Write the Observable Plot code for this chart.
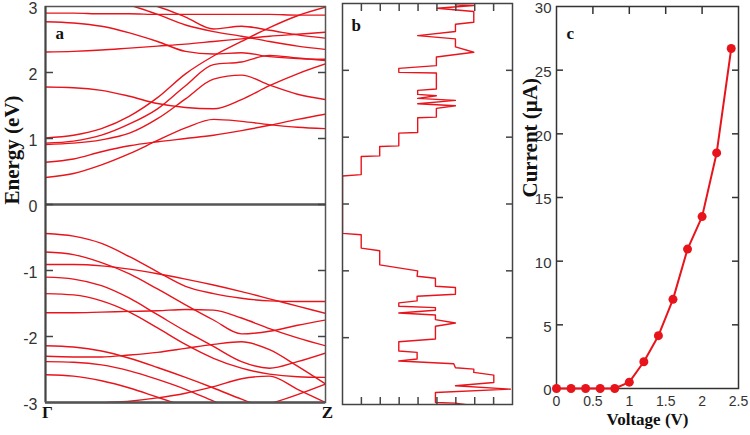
<!DOCTYPE html>
<html><head><meta charset="utf-8">
<script src="https://cdn.jsdelivr.net/npm/d3@7"></script>
<script src="https://cdn.jsdelivr.net/npm/@observablehq/plot@0.6"></script>
<style>
body{margin:0;background:#fff;}
#wrap{position:relative;width:750px;height:435px;overflow:hidden;background:#fff;}
#wrap > svg{position:absolute;top:0;}
</style></head><body><div id="wrap"></div>
<script>
// ---------- data ----------
const kPoints = [0,0.1,0.2,0.3,0.4,0.5,0.6,0.7,0.8,0.9,1];
const kTickLabels = ["Γ","Z"];
const kTickPos = [0,1];
const energyTickLabels = [-3,-2,-1,0,1,2,3];
const energyInnerTicks = [-2,-1,0,1,2];

const conductionBands = [
  [0.41,0.47,0.60,0.77,0.97,1.16,1.29,1.26,1.21,1.17,1.15],
  [0.64,0.69,0.80,0.89,0.95,1.00,1.05,1.12,1.20,1.29,1.37],
  [0.91,0.93,0.98,1.08,1.30,1.60,1.90,1.96,1.81,1.67,1.59],
  [0.93,0.96,1.05,1.22,1.45,1.80,2.12,2.16,2.26,2.22,2.18],
  [1.01,1.05,1.15,1.34,1.62,1.98,2.25,2.47,2.68,2.86,2.99],
  [1.78,1.77,1.73,1.64,1.53,1.47,1.45,1.59,1.80,1.98,2.13],
  [2.31,2.32,2.34,2.37,2.40,2.43,2.47,2.51,2.55,2.58,2.61],
  [2.77,2.75,2.70,2.60,2.47,2.32,2.28,2.30,2.24,2.21,2.20],
  [2.90,2.90,2.89,2.89,2.88,2.88,2.88,2.88,2.88,2.87,2.87],
  [3.30,3.20,3.10,3.02,2.88,2.72,2.62,2.55,2.47,2.40,2.35],
  [3.40,3.30,3.20,3.10,3.00,2.84,2.66,2.70,2.64,2.57,2.52]
];
const valenceBands = [
  [-0.44,-0.48,-0.59,-0.79,-1.02,-1.24,-1.35,-1.42,-1.46,-1.47,-1.47],
  [-0.91,-0.91,-0.93,-0.98,-1.05,-1.13,-1.22,-1.32,-1.43,-1.54,-1.65],
  [-0.72,-0.76,-0.88,-1.05,-1.28,-1.52,-1.75,-1.96,-1.92,-1.83,-1.75],
  [-1.64,-1.64,-1.63,-1.62,-1.61,-1.59,-1.60,-1.72,-1.88,-2.02,-2.14],
  [-1.10,-1.13,-1.23,-1.42,-1.67,-1.92,-2.15,-2.38,-2.48,-2.38,-2.25],
  [-1.35,-1.37,-1.46,-1.63,-1.87,-2.12,-2.33,-2.48,-2.57,-2.61,-2.62],
  [-2.14,-2.16,-2.22,-2.33,-2.47,-2.62,-2.78,-2.95,-3.10,-3.20,-3.30],
  [-2.30,-2.31,-2.31,-2.28,-2.24,-2.18,-2.12,-2.08,-2.20,-2.45,-2.72],
  [-2.38,-2.39,-2.43,-2.52,-2.65,-2.80,-2.98,-3.15,-3.30,-3.40,-3.50],
  [-2.58,-2.60,-2.67,-2.78,-2.92,-3.06,-3.20,-3.30,-3.40,-3.50,-3.60],
  [-3.30,-3.10,-3.01,-2.98,-2.93,-2.86,-2.76,-2.64,-2.60,-2.80,-3.00],
  [-3.60,-3.55,-3.50,-3.45,-3.40,-3.35,-3.25,-3.12,-3.02,-2.88,-2.72]
];

const dosEnergy = [3.02,2.98,2.97,2.93,2.88,2.72,2.69,2.58,2.52,2.47,2.35,2.27,2.20,2.07,2.03,1.97,1.96,1.72,1.70,1.64,1.62,1.58,1.55,1.50,1.47,1.43,1.30,1.29,1.07,1.06,0.87,0.86,0.72,0.71,0.44,0.42,
  -0.44,-0.46,-0.66,-0.70,-0.91,-1.00,-1.08,-1.11,-1.23,-1.25,-1.35,-1.38,-1.45,-1.48,-1.53,-1.55,-1.59,-1.63,-1.66,-1.73,-1.78,-1.83,-2.02,-2.06,-2.20,-2.22,-2.32,-2.35,-2.39,-2.45,-2.47,-2.52,-2.56,-2.67,-2.72,-2.77,-2.82,-2.97,-2.98,-3.02];
const dosValue = [5.98,5.98,6.95,5.01,6.95,6.95,5.98,5.98,3.98,5.98,5.98,6.95,4.97,4.97,2.98,2.98,4.97,4.97,3.98,3.98,4.97,3.98,5.98,3.98,5.98,4.97,4.97,3.98,3.98,2.98,2.98,1.97,1.97,0.99,0.99,0,
  0,0.99,0.99,1.97,1.97,3.98,3.95,4.92,4.92,5.98,5.98,3.95,3.95,2.98,2.98,4.92,4.92,2.98,4.92,4.92,5.98,4.92,4.92,2.98,2.98,3.95,3.95,2.98,5.89,5.98,6.95,6.95,8.01,8.01,5.98,8.89,4.92,4.92,5.98,6.98];
const dosTicks = [1,2,3,4,5,6,7,8];

const voltage = [0,0.2,0.4,0.6,0.8,1.0,1.2,1.4,1.6,1.8,2.0,2.2,2.4];
const current = [0,0,0,0,0,0.5,2.1,4.15,7.0,10.95,13.5,18.5,26.7];
const voltageTicks = [0,0.5,1,1.5,2,2.5];
const currentTicks = [0,5,10,15,20,25,30];
const currentInnerTicks = [5,10,15,20,25];
const voltageInnerTicks = [0.5,1,1.5,2];

// ---------- tables ----------
const bandTable = [...conductionBands, ...valenceBands].flatMap((b, i) => b.map((e, j) => ({k: kPoints[j], e, band: i})));
const dosTable = dosEnergy.map((e, i) => ({e, d: dosValue[i]}));
const ivTable = voltage.map((v, i) => ({v, c: current[i]}));

const red = "#e8141c";
const serif = "Liberation Serif";
const sans = "Liberation Sans";
const tickText = "#333";
const baseStyle = {fontFamily: sans, fontSize: "16px", color: "#333", background: "transparent", overflow: "visible"};
const fmt = d => String(d);
const blank = () => "";

const wrap = document.getElementById("wrap");

// ---------- panel a ----------
const plotA = Plot.plot({
  width: 335, height: 435,
  marginLeft: 45, marginRight: 10, marginTop: 6, marginBottom: 33,
  x: {domain: [0, 1], axis: null},
  y: {domain: [-3, 3]},
  style: baseStyle,
  marks: [
    Plot.line(bandTable, {x: "k", y: "e", z: "band", stroke: red, strokeWidth: 1.4, curve: "monotone-x", clip: true}),
    Plot.ruleY([0], {stroke: "#555", strokeWidth: 2.5}),
    Plot.frame({stroke: "#555", strokeWidth: 1.5}),
    Plot.ruleX([0], {stroke: "#444", strokeWidth: 2}),
    Plot.ruleY([-3], {stroke: "#555", strokeWidth: 2.5}),
    Plot.axisY(energyTickLabels, {anchor: "left", tickSize: 0, tickPadding: 8, dy: 2, tickFormat: fmt, fontSize: 16, fill: tickText, label: null}),
    Plot.axisY(energyInnerTicks, {anchor: "left", tickSize: 8, dx: 8, tickFormat: blank, label: null, stroke: "#444", strokeWidth: 1.5}),
    Plot.axisY(energyInnerTicks, {anchor: "right", tickSize: 8, dx: -8, tickFormat: blank, label: null, stroke: "#444", strokeWidth: 1.5}),
    Plot.text(kTickLabels, {x: kTickPos, text: d => d, frameAnchor: "bottom", dy: 15, dx: 2, fontFamily: serif, fontWeight: "bold", fontSize: 17, fill: "#111"}),
    Plot.text(["Energy (eV)"], {text: d => d, frameAnchor: "left", rotate: -90, dx: -33, fontFamily: serif, fontWeight: "bold", fontSize: 21, fill: "#111"}),
    Plot.text(["a"], {text: d => d, frameAnchor: "top-left", textAnchor: "start", dx: 10, dy: 20, fontFamily: serif, fontWeight: "bold", fontSize: 17, fill: "#111"})
  ]
});
plotA.style.left = "0px";
wrap.appendChild(plotA);

// ---------- panel b ----------
const plotB = Plot.plot({
  width: 185, height: 435,
  marginLeft: 7, marginRight: 8, marginTop: 3, marginBottom: 31,
  x: {domain: [0, 9]},
  y: {domain: [-3, 3]},
  style: baseStyle,
  marks: [
    Plot.line(dosTable, {x: "d", y: "e", stroke: red, strokeWidth: 1.4, clip: true}),
    Plot.frame({stroke: "#444", strokeWidth: 1.5}),
    Plot.axisY(energyInnerTicks, {anchor: "left", tickSize: 7, dx: 7, tickFormat: blank, label: null, stroke: "#444", strokeWidth: 1.5}),
    Plot.axisY(energyInnerTicks, {anchor: "right", tickSize: 7, dx: -7, tickFormat: blank, label: null, stroke: "#444", strokeWidth: 1.5}),
    Plot.axisX(dosTicks, {anchor: "bottom", tickSize: 7, dy: -7, tickFormat: blank, label: null, stroke: "#444", strokeWidth: 1.5}),
    Plot.axisX(dosTicks, {anchor: "top", tickSize: 7, dy: 7, tickFormat: blank, label: null, stroke: "#444", strokeWidth: 1.5}),
    Plot.text(["b"], {text: d => d, frameAnchor: "top-left", textAnchor: "start", dx: 9, dy: 15, fontFamily: serif, fontWeight: "bold", fontSize: 17, fill: "#111"})
  ]
});
plotB.style.left = "335px";
wrap.appendChild(plotB);

// ---------- panel c ----------
const plotC = Plot.plot({
  width: 230, height: 435,
  marginLeft: 36, marginRight: 12, marginTop: 6, marginBottom: 47,
  x: {domain: [0, 2.5]},
  y: {domain: [0, 30]},
  style: baseStyle,
  marks: [
    Plot.frame({stroke: "#333", strokeWidth: 1.5}),
    Plot.axisY(currentTicks, {anchor: "left", tickSize: 0, tickPadding: 5, dy: 2, tickFormat: fmt, fontSize: 15, fill: tickText, label: null}),
    Plot.axisX(voltageTicks, {anchor: "bottom", tickSize: 0, tickPadding: 8, tickFormat: fmt, fontSize: 14, fill: tickText, label: null}),
    Plot.axisY(currentInnerTicks, {anchor: "left", tickSize: 7, dx: 7, tickFormat: blank, label: null, stroke: "#333", strokeWidth: 1.5}),
    Plot.axisY(currentInnerTicks, {anchor: "right", tickSize: 7, dx: -7, tickFormat: blank, label: null, stroke: "#333", strokeWidth: 1.5}),
    Plot.axisX(voltageInnerTicks, {anchor: "top", tickSize: 7, dy: 7, tickFormat: blank, label: null, stroke: "#333", strokeWidth: 1.5}),
    Plot.line(ivTable, {x: "v", y: "c", stroke: red, strokeWidth: 2}),
    Plot.dot(ivTable, {x: "v", y: "c", r: 4.5, fill: red, stroke: "none"}),
    Plot.text(["Voltage (V)"], {text: d => d, frameAnchor: "bottom", dy: 36, fontFamily: serif, fontWeight: "bold", fontSize: 17, fill: "#111"}),
    Plot.text(["Current (µA)"], {text: d => d, frameAnchor: "left", rotate: -90, dx: -26, fontFamily: serif, fontWeight: "bold", fontSize: 21, fill: "#111"}),
    Plot.text(["c"], {text: d => d, frameAnchor: "top-left", textAnchor: "start", dx: 10, dy: 20, fontFamily: serif, fontWeight: "bold", fontSize: 17, fill: "#111"})
  ]
});
plotC.style.left = "520px";
wrap.appendChild(plotC);
</script>
</body></html>
